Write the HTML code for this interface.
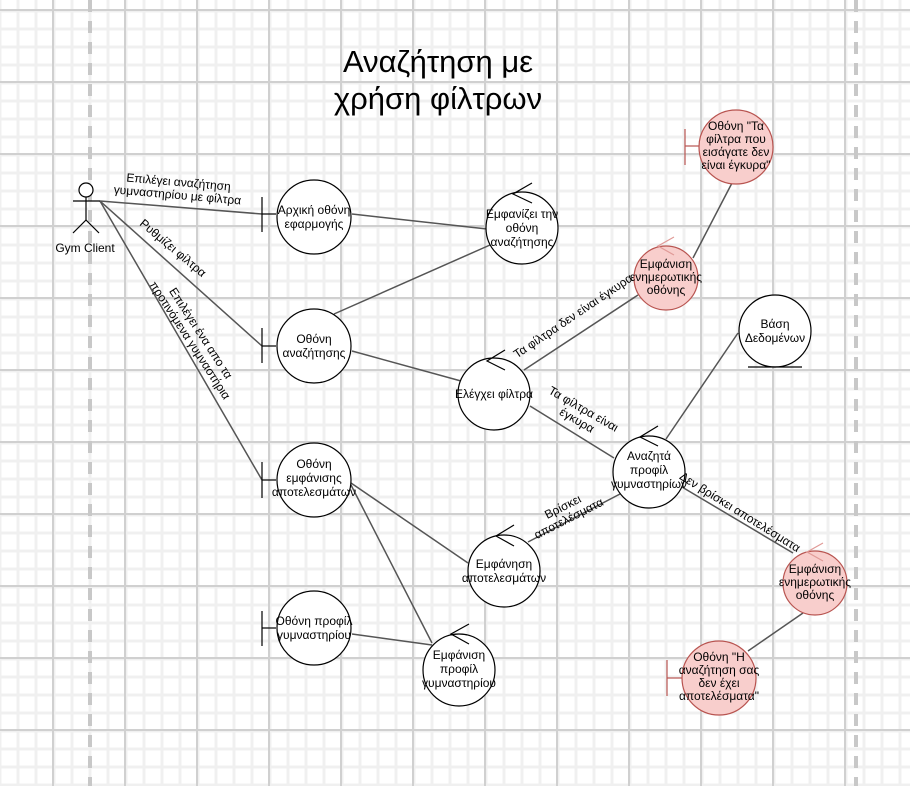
<!DOCTYPE html>
<html><head><meta charset="utf-8"><style>
html,body{margin:0;padding:0;background:#fff;}
svg{display:block;}
text{font-family:"Liberation Sans","DejaVu Sans",sans-serif;fill:#000;}
</style></head><body>
<svg width="910" height="786" viewBox="0 0 910 786" xmlns="http://www.w3.org/2000/svg">
<defs>
<pattern id="minor" x="16.5" y="9.5" width="18" height="18" patternUnits="userSpaceOnUse">
<rect x="0" y="0" width="18" height="3" fill="#f0f0f0"/>
<rect x="0" y="0" width="3" height="18" fill="#f0f0f0"/>
</pattern>
<pattern id="major" x="52" y="9" width="72" height="72" patternUnits="userSpaceOnUse">
<rect x="0" y="0" width="72" height="2" fill="#d0d0d0"/>
<rect x="0" y="0" width="2" height="72" fill="#d0d0d0"/>
</pattern>
</defs>
<rect width="910" height="786" fill="#fff"/>
<rect width="910" height="786" fill="url(#minor)"/>
<rect width="910" height="786" fill="url(#major)"/>
<line x1="90" y1="0" x2="90" y2="786" stroke="#c8c8c8" stroke-width="4" stroke-dasharray="12,9"/>
<line x1="856" y1="0" x2="856" y2="786" stroke="#c8c8c8" stroke-width="4" stroke-dasharray="12,9"/>

<text x="438" y="72" font-size="31" text-anchor="middle">Αναζήτηση με</text>
<text x="438" y="109" font-size="31" text-anchor="middle">χρήση φίλτρων</text>

<g stroke="#555" stroke-width="1.5" fill="none">
<line x1="100" y1="201" x2="262" y2="214"/>
<line x1="100" y1="201" x2="262" y2="346"/>
<line x1="100" y1="201" x2="262" y2="480"/>
<line x1="352" y1="214" x2="487" y2="229"/>
<line x1="490" y1="245" x2="334" y2="314"/>
<line x1="352" y1="351" x2="461" y2="381"/>
<line x1="524" y1="370" x2="638" y2="295"/>
<line x1="693" y1="258" x2="732" y2="183"/>
<line x1="530" y1="406" x2="614" y2="458"/>
<line x1="666" y1="439" x2="738" y2="333"/>
<line x1="620" y1="494" x2="528" y2="542"/>
<line x1="682" y1="487" x2="793" y2="553"/>
<line x1="803" y1="613" x2="748" y2="651"/>
<line x1="351" y1="483" x2="468" y2="563"/>
<line x1="351" y1="485" x2="432" y2="643"/>
<line x1="352" y1="634" x2="432" y2="645"/>
</g>

<g stroke="#000" stroke-width="1.2" fill="#fff">
<circle cx="86" cy="190" r="7"/>
<line x1="73" y1="201" x2="100" y2="201"/>
<line x1="86" y1="197" x2="86" y2="220"/>
<line x1="86" y1="220" x2="73" y2="233"/>
<line x1="86" y1="220" x2="99" y2="233"/>
</g>
<text x="85" y="252" font-size="12" text-anchor="middle">Gym Client</text>

<g stroke="#000" stroke-width="1.2" fill="#fff">
<line x1="262" y1="197" x2="262" y2="232"/><line x1="262" y1="214" x2="276" y2="214"/>
<circle cx="314" cy="217" r="37"/>
<line x1="262" y1="328" x2="262" y2="363"/><line x1="262" y1="346" x2="276" y2="346"/>
<circle cx="314" cy="346" r="37"/>
<line x1="262" y1="462" x2="262" y2="498"/><line x1="262" y1="480" x2="276" y2="480"/>
<circle cx="314" cy="480" r="37"/>
<line x1="262" y1="611" x2="262" y2="646"/><line x1="262" y1="628" x2="276" y2="628"/>
<circle cx="314" cy="628" r="37"/>
<circle cx="522" cy="228" r="36"/><polyline points="532,183 513,194 532,203" fill="none"/>
<circle cx="494" cy="394" r="36"/><polyline points="505,350 487,361 505,370" fill="none"/>
<circle cx="649" cy="472" r="36"/><polyline points="658,426 640,437 658,446" fill="none"/>
<circle cx="504" cy="571" r="36"/><polyline points="514,525 496,536 514,546" fill="none"/>
<circle cx="459" cy="670" r="36"/><polyline points="469,624 451,634 469,644" fill="none"/>
<circle cx="775" cy="331" r="36"/>
<line x1="748" y1="367" x2="802" y2="367"/>
</g>
<g stroke="#b85450" stroke-width="1.2" fill="#f8cecc">
<line x1="685" y1="129" x2="685" y2="165"/><line x1="685" y1="146" x2="699" y2="146"/>
<circle cx="736" cy="147" r="37"/>
<circle cx="666" cy="278" r="32"/><polyline points="674,237 658,246 674,255" fill="none" stroke="#e09a97"/>
<circle cx="815" cy="583" r="32"/><polyline points="823,543 807,552 823,561" fill="none" stroke="#e09a97"/>
<line x1="667" y1="660" x2="667" y2="696"/><line x1="667" y1="678" x2="682" y2="678"/>
<circle cx="719" cy="678" r="37"/>
</g>

<g font-size="12" text-anchor="middle">
<text x="314" y="214">Αρχική οθόνη</text><text x="314" y="228">εφαρμογής</text>
<text x="314" y="343">Οθόνη</text><text x="314" y="357">αναζήτησης</text>
<text x="314" y="468">Οθόνη</text><text x="314" y="482">εμφάνισης</text><text x="314" y="496">αποτελεσμάτων</text>
<text x="314" y="625">Οθόνη προφίλ</text><text x="314" y="639">γυμναστηρίου</text>
<text x="522" y="218">Εμφανίζει την</text><text x="522" y="232">οθόνη</text><text x="522" y="246">αναζήτησης</text>
<text x="494" y="398">Ελέγχει φίλτρα</text>
<text x="649" y="460">Αναζητά</text><text x="649" y="474">προφίλ</text><text x="649" y="488">γυμναστηρίων</text>
<text x="504" y="568">Εμφάνηση</text><text x="504" y="582">αποτελεσμάτων</text>
<text x="459" y="659">Εμφάνιση</text><text x="459" y="673">προφίλ</text><text x="459" y="687">γυμναστηρίου</text>
<text x="775" y="328">Βάση</text><text x="775" y="342">Δεδομένων</text>
<text x="736" y="130">Οθόνη "Τα</text><text x="736" y="143">φίλτρα που</text><text x="736" y="156">εισάγατε δεν</text><text x="736" y="169">είναι έγκυρα"</text>
<text x="666" y="268">Εμφάνιση</text><text x="666" y="281">ενημερωτικής</text><text x="666" y="294">οθόνης</text>
<text x="815" y="573">Εμφάνιση</text><text x="815" y="586">ενημερωτικής</text><text x="815" y="599">οθόνης</text>
<text x="719" y="661">Οθόνη "Η</text><text x="719" y="674">αναζήτηση σας</text><text x="719" y="687">δεν έχει</text><text x="719" y="700">αποτελέσματα"</text>

<g transform="translate(178,189) rotate(5)"><text x="0" y="-3">Επιλέγει αναζήτηση</text><text x="0" y="10">γυμναστηρίου με φίλτρα</text></g>
<g transform="translate(173,248) rotate(40)"><text x="0" y="4">Ρυθμίζει φίλτρα</text></g>
<g transform="translate(195,337) rotate(57)"><text x="0" y="-3">Επιλέγει ένα απο τα</text><text x="0" y="10">προτινόμενα γυμναστήρια</text></g>
<g transform="translate(573,316) rotate(-34)"><text x="0" y="4">Τα φίλτρα δεν είναι έγκυρα</text></g>
<g transform="translate(580,415) rotate(30)"><text x="0" y="-3">Τα φίλτρα είναι</text><text x="0" y="10">έγκυρα</text></g>
<g transform="translate(566,513) rotate(-27)"><text x="0" y="-3">Βρίσκει</text><text x="0" y="10">αποτελέσματα</text></g>
<g transform="translate(740,512) rotate(32)"><text x="0" y="4">Δεν βρίσκει αποτελέσματα</text></g>
</g>
</svg>
</body></html>
